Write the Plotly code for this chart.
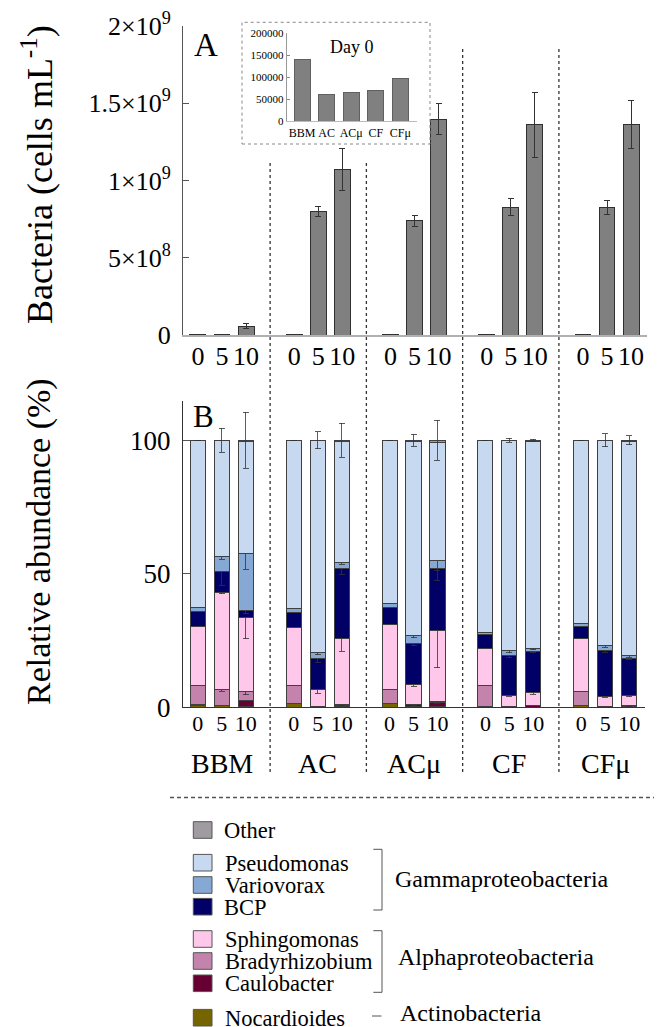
import plotly.graph_objects as go

# ---------------- data ----------------
groups = ["BBM", "AC", "ACμ", "CF", "CFμ"]
days = ["0", "5", "10"]

# Panel A: bacteria (cells mL-1)
cells_bbm = [1.40e5, 5.0e6, 5.8e7]
cells_ac = [6.1e4, 8.00e8, 1.072e9]
cells_acmu = [6.6e4, 7.40e8, 1.396e9]
cells_cf = [7.0e4, 8.26e8, 1.361e9]
cells_cfmu = [9.65e4, 8.26e8, 1.361e9]
err_bbm = [0, 1.5e6, 1.5e7]
err_ac = [0, 3.0e7, 1.37e8]
err_acmu = [0, 3.5e7, 1.0e8]
err_cf = [0, 5.5e7, 2.1e8]
err_cfmu = [0, 4.5e7, 1.55e8]

# Inset: day 0
inset_vals = [140000, 61000, 66000, 70000, 96500]

# Panel B: relative abundance (%) per sample BBM0,BBM5,BBM10,AC0,...,CFmu10
nocardioides = [0.8, 0.6, 0.3, 1.5, 0.1, 0.2, 1.5, 0.2, 0.3, 0.3, 0.1, 0.1, 0.75, 0.1, 0.1]
caulobacter = [0.1, 0.2, 2.3, 0.1, 0.1, 0.5, 0.1, 0.7, 1.45, 0.1, 0.1, 0.6, 0.1, 0.2, 0.3]
bradyrhizobium = [7.2, 5.8, 3.3, 6.5, 0.1, 0.2, 4.9, 0.3, 0.5, 7.85, 0.1, 0.1, 5.15, 0.1, 0.1]
sphingomonas = [22.3, 36.4, 27.6, 21.9, 6.2, 25.0, 24.6, 7.3, 26.5, 13.75, 4.2, 4.6, 19.6, 3.6, 3.75]
bcp = [5.5, 7.75, 2.75, 5.6, 11.6, 26.0, 6.4, 15.4, 23.35, 5.1, 14.75, 15.5, 4.5, 17.1, 14.0]
variovorax = [1.5, 5.65, 21.35, 1.4, 2.5, 2.2, 1.5, 2.85, 2.9, 1.0, 1.85, 1.2, 1.3, 2.15, 1.0]
pseudomonas = [62.4, 43.4, 42.1, 62.8, 79.2, 45.6, 60.8, 72.95, 44.25, 71.7, 78.7, 77.6, 68.4, 76.55, 80.45]
other = [0.2, 0.2, 0.3, 0.2, 0.2, 0.3, 0.2, 0.3, 0.75, 0.2, 0.2, 0.3, 0.2, 0.2, 0.3]

err_other = [0, 4.5, 10.5, 0, 3.2, 6.4, 0, 2.3, 7.5, 0, 0.75, 0.4, 0, 2.4, 1.7]
err_vario = [0, 1.0, 6.0, 0, 1.0, 0.6, 0, 0.7, 7.5, 0, 0.6, 0.5, 0, 0.8, 0.6]
err_bcp = [0, 5.0, 1.0, 0, 1.2, 2.0, 0, 0.8, 1.0, 0, 0.5, 0.5, 0, 0.5, 0.5]
err_sphingo = [0, 0.5, 7.8, 0, 1.2, 5.0, 0, 0.6, 14.0, 0, 0.3, 0.6, 0, 0.3, 0.3]
err_brady = [0, 0.5, 1.2, 0, 0.3, 0.3, 0, 0.6, 0.8, 0, 0.2, 0.3, 0, 0.2, 0.2]

taxa = ["Nocardioides", "Caulobacter", "Bradyrhizobium", "Sphingomonas",
        "BCP", "Variovorax", "Pseudomonas", "Other"]
taxa_vals = [nocardioides, caulobacter, bradyrhizobium, sphingomonas,
             bcp, variovorax, pseudomonas, other]
taxa_err = [None, None, err_brady, err_sphingo, err_bcp, err_vario, None, err_other]
taxa_colors = ["#766400", "#660033", "#c383ad", "#ffc8ea",
               "#000066", "#86a8d4", "#c6d9f1", "#a09ba0"]

# ---------------- helpers ----------------
# the page body has an 8px margin, so the figure is 8px smaller and shifted
OFF = 8
W, H = 662 - OFF, 1027 - OFF
FONT = "Liberation Serif, Times New Roman, Times, serif"


def px(x):
    return (x - OFF) / W


def py(y):
    return 1 - (y - OFF) / H


positions = [4 * g + d for g in range(len(groups)) for d in range(len(days))]
tick_text = [d for g in groups for d in days]
xr = [-0.62, 18.66]

fig = go.Figure()

# Panel A bars
cells_all = cells_bbm + cells_ac + cells_acmu + cells_cf + cells_cfmu
err_all = err_bbm + err_ac + err_acmu + err_cf + err_cfmu
fig.add_trace(go.Bar(
    x=positions, y=cells_all, width=0.66,
    marker=dict(color="#808080", line=dict(color="#303030", width=1)),
    error_y=dict(type="data", array=err_all, color="#333333", thickness=1, width=3),
    xaxis="x", yaxis="y", showlegend=False))

# Panel B stacked bars
for name, vals, err, col in zip(taxa, taxa_vals, taxa_err, taxa_colors):
    ey = dict(type="data", array=err, color="#333333", thickness=0.8, width=3) if err else None
    fig.add_trace(go.Bar(
        x=positions, y=vals, width=0.63, name=name,
        marker=dict(color=col, line=dict(color="#404040", width=1)),
        error_y=ey, xaxis="x2", yaxis="y2", showlegend=False))

# Inset bars
fig.add_trace(go.Bar(
    x=list(range(len(groups))), y=inset_vals, width=0.65,
    marker=dict(color="#808080", line=dict(color="#606060", width=1)),
    xaxis="x3", yaxis="y3", showlegend=False))

fig.update_layout(
    template="none",
    width=W, height=H, barmode="stack",
    margin=dict(l=0, r=0, t=0, b=0, pad=0, autoexpand=False),
    paper_bgcolor="white", plot_bgcolor="white",
    font=dict(family=FONT, color="black"),
    xaxis=dict(domain=[px(183), px(647)], range=xr, anchor="y", automargin=False,
               tickmode="array", tickvals=positions, ticktext=tick_text, tickangle=0,
               ticks="", showline=True, linecolor="#b0b0b0", linewidth=1.5,
               ticklabelstandoff=-3,
               tickfont=dict(family=FONT, size=26), showgrid=False, zeroline=False),
    yaxis=dict(domain=[py(335), py(26)], range=[0, 2e9], anchor="x", automargin=False,
               tickmode="array", tickvals=[0, 5e8, 1e9, 1.5e9, 2e9],
               ticktext=["0", "5×10<sup>8</sup>", "1×10<sup>9</sup>",
                         "1.5×10<sup>9</sup>", "2×10<sup>9</sup>"],
               ticks="inside", ticklen=6, tickcolor="#555", ticklabelstandoff=6,
               ticklabeloverflow="allow",
               showline=True, linecolor="#555", linewidth=1,
               tickfont=dict(family=FONT, size=26), showgrid=False, zeroline=False),
    xaxis2=dict(domain=[px(183), px(645)], range=xr, anchor="y2", automargin=False,
                tickmode="array", tickvals=positions, ticktext=tick_text, tickangle=0,
                ticks="", showline=True, linecolor="#333", linewidth=1.2,
                ticklabelstandoff=-4,
                tickfont=dict(family=FONT, size=22), showgrid=False, zeroline=False),
    yaxis2=dict(domain=[py(707.3), py(400.7)], range=[0, 114.8], anchor="x2", automargin=False,
                tickmode="array", tickvals=[0, 50, 100], ticktext=["0", "50", "100"],
                ticks="inside", ticklen=7, tickcolor="#555", ticklabelstandoff=6,
                ticklabeloverflow="allow",
                showline=True, linecolor="#333", linewidth=1,
                tickfont=dict(family=FONT, size=27), showgrid=False, zeroline=False),
    xaxis3=dict(domain=[px(286.7), px(416.7)], range=[-0.63, 4.67], anchor="y3", automargin=False,
                tickmode="array", tickvals=list(range(len(groups))), ticktext=groups, tickangle=0,
                ticks="", showline=True, linecolor="#bbbbbb", linewidth=1.2,
                tickfont=dict(family=FONT, size=12), showgrid=False, zeroline=False),
    yaxis3=dict(domain=[py(121), py(33.3)], range=[0, 200000], anchor="x3", automargin=False,
                tickmode="array", tickvals=[0, 50000, 100000, 150000, 200000],
                ticktext=["0", "50000", "100000", "150000", "200000"],
                ticks="inside", ticklen=3, tickcolor="#888",
                showline=True, linecolor="#999", linewidth=1,
                tickfont=dict(family=FONT, size=11), showgrid=False, zeroline=False),
)

shapes = []
# vertical dashed separators between treatment groups
sep_positions = [4 * g - 1 for g in range(1, len(groups))]
sep_tops = [163, 163, 46, 46]
for sx, top in zip(sep_positions, sep_tops):
    shapes.append(dict(type="line", xref="x", yref="paper", x0=sx, x1=sx,
                       y0=py(772), y1=py(top),
                       line=dict(color="#333", width=1.3, dash="3px,3px")))
# horizontal dashed line above legend
shapes.append(dict(type="line", xref="paper", yref="paper", x0=px(170), x1=px(662),
                   y0=py(797.5), y1=py(797.5),
                   line=dict(color="#555", width=1.3, dash="4px,3px")))
# inset frame
shapes.append(dict(type="rect", xref="paper", yref="paper", x0=px(242), x1=px(430),
                   y0=py(144), y1=py(22.3),
                   line=dict(color="#888", width=1, dash="dot")))

annotations = []
# Y titles
annotations.append(dict(text="Bacteria (cells mL<sup>-1</sup>)", xref="paper", yref="paper",
                        x=px(38), y=py(175), textangle=-90, showarrow=False,
                        font=dict(family=FONT, size=36), xanchor="center", yanchor="middle"))
annotations.append(dict(text="Relative abundance (%)", xref="paper", yref="paper",
                        x=px(39), y=py(542), textangle=-90, showarrow=False,
                        font=dict(family=FONT, size=34), xanchor="center", yanchor="middle"))
# panel letters
annotations.append(dict(text="A", xref="paper", yref="paper", x=px(206), y=py(45),
                        showarrow=False, font=dict(family=FONT, size=33),
                        xanchor="center", yanchor="middle"))
annotations.append(dict(text="B", xref="paper", yref="paper", x=px(203), y=py(417),
                        showarrow=False, font=dict(family=FONT, size=31),
                        xanchor="center", yanchor="middle"))
# inset title
annotations.append(dict(text="Day 0", xref="paper", yref="paper", x=px(352), y=py(47),
                        showarrow=False, font=dict(family=FONT, size=18),
                        xanchor="center", yanchor="middle"))
# group labels under panel B
for g, name in enumerate(groups):
    annotations.append(dict(text=name, xref="x2", yref="paper", x=4 * g + 1, y=py(763),
                            showarrow=False, font=dict(family=FONT, size=28),
                            xanchor="center", yanchor="middle"))

# custom legend
legend_rows = [("Other", 830), ("Pseudomonas", 862.7), ("Variovorax", 885), ("BCP", 906.7),
               ("Sphingomonas", 939), ("Bradyrhizobium", 961), ("Caulobacter", 983.3),
               ("Nocardioides", 1017.7)]
color_of = dict(zip(taxa, taxa_colors))
for name, yc in legend_rows:
    shapes.append(dict(type="rect", xref="paper", yref="paper",
                       x0=px(193.3), x1=px(212), y0=py(yc + 8.3), y1=py(yc - 8.3),
                       fillcolor=color_of[name], line=dict(color="#555", width=1)))
    annotations.append(dict(text=name, xref="paper", yref="paper", x=px(222.5), y=py(yc + 0.5),
                            xanchor="left", yanchor="middle", showarrow=False,
                            font=dict(family=FONT, size=22.5)))
# brackets
for y0, y1 in [(849.3, 910), (930.7, 992.3)]:
    shapes.append(dict(type="path", xref="paper", yref="paper",
                       path="M {a},{b} L {c},{b} L {c},{d} L {a},{d}".format(
                           a=px(373.3), b=py(y0), c=px(382), d=py(y1)),
                       line=dict(color="#555", width=1)))
shapes.append(dict(type="line", xref="paper", yref="paper", x0=px(372), x1=px(381.5),
                   y0=py(1016), y1=py(1016), line=dict(color="#555", width=1)))
for text, xl, yc in [("Gammaproteobacteria", 393, 879), ("Alphaproteobacteria", 396, 957),
                     ("Actinobacteria", 398.5, 1013)]:
    annotations.append(dict(text=text, xref="paper", yref="paper", x=px(xl), y=py(yc),
                            xanchor="left", yanchor="middle", showarrow=False,
                            font=dict(family=FONT, size=24)))

fig.update_layout(shapes=shapes, annotations=annotations)
fig.write_html("out.html")
